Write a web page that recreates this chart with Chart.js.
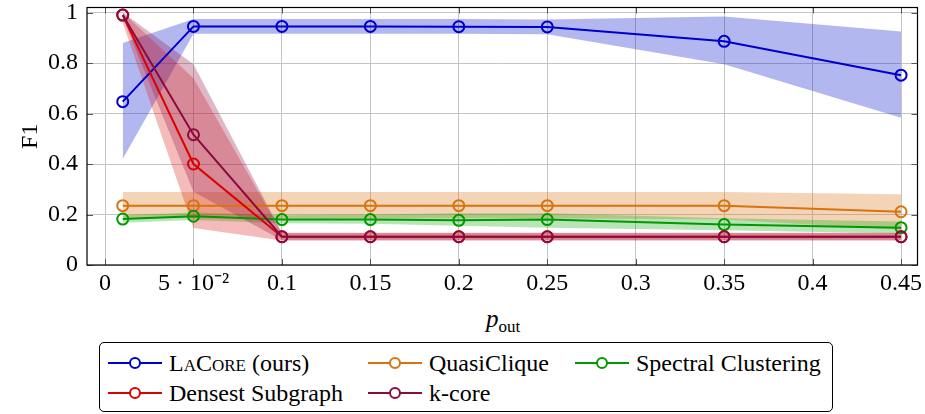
<!DOCTYPE html>
<html>
<head>
  <meta charset="UTF-8" />
  <title>F1 vs p_out</title>
  <style>
    body { margin: 0; background: #fff; font-family: "Liberation Serif", serif; }
    #wrap { position: relative; width: 925px; height: 414px; }
    #plot { position: absolute; left: 0; top: 0; width: 925px; height: 300px; }
    #xtitle { position: absolute; left: 486px; top: 305px; font-size: 25px; }
    #xtitle sub { font-size: 17px; font-style: normal; vertical-align: -5px; }
    #legend { position: absolute; left: 99px; top: 342px; width: 732px; height: 68px;
              border: 1px solid #000; border-radius: 5px; font-size: 24px; }
    .item { position: absolute; height: 30px; line-height: 30px; white-space: nowrap; }
    .sample { display: inline-block; position: relative; width: 54px; height: 30px; vertical-align: top; margin-right: 7px; }
    .sample .ln { position: absolute; left: 0; right: 0; top: 14px; height: 2px; }
    .sample .mk { position: absolute; left: 21px; top: 9px; width: 8px; height: 8px; border: 2px solid; border-radius: 50%; background: #fff; }
    .sc { font-variant: small-caps; }
  </style>
</head>
<body>
<div id="wrap">
  <div id="plot"><canvas id="chart"></canvas></div>
  <div id="xtitle"><i>p</i><sub>out</sub></div>
  <div id="legend"></div>
</div>
<script src="https://cdn.jsdelivr.net/npm/chart.js"></script>
<script>
  // x values (p_out) and tick labels
  const pOut = [0.01, 0.05, 0.1, 0.15, 0.2, 0.25, 0.35, 0.45];
  const xTicks = [0, 0.05, 0.1, 0.15, 0.2, 0.25, 0.3, 0.35, 0.4, 0.45];
  const xTickLabels = ['0', '5 · 10⁻²', '0.1', '0.15', '0.2', '0.25', '0.3', '0.35', '0.4', '0.45'];
  const yTicks = [0, 0.2, 0.4, 0.6, 0.8, 1];
  const yTickLabels = ['0', '0.2', '0.4', '0.6', '0.8', '1'];

  // F1 means and min/max bands
  const lacore   = [0.647, 0.945, 0.945, 0.945, 0.944, 0.943, 0.886, 0.752];
  const lacoreHi = [0.879, 0.974, 0.974, 0.974, 0.974, 0.972, 0.984, 0.925];
  const lacoreLo = [0.42, 0.916, 0.916, 0.916, 0.916, 0.914, 0.795, 0.583];

  const quasi   = [0.235, 0.235, 0.235, 0.235, 0.235, 0.235, 0.235, 0.211];
  const quasiHi = [0.289, 0.289, 0.289, 0.289, 0.289, 0.289, 0.289, 0.28];
  const quasiLo = [0.185, 0.185, 0.185, 0.185, 0.185, 0.185, 0.18, 0.14];

  const spectral   = [0.182, 0.193, 0.18, 0.18, 0.177, 0.18, 0.16, 0.148];
  const spectralHi = [0.197, 0.208, 0.197, 0.2, 0.205, 0.205, 0.185, 0.172];
  const spectralLo = [0.167, 0.178, 0.165, 0.163, 0.155, 0.148, 0.138, 0.125];

  const densest   = [0.99, 0.40, 0.112, 0.112, 0.112, 0.112, 0.112, 0.112];
  const densestHi = [1.0, 0.74, 0.127, 0.127, 0.127, 0.127, 0.127, 0.127];
  const densestLo = [0.96, 0.147, 0.097, 0.097, 0.097, 0.097, 0.097, 0.097];

  const kcore   = [0.99, 0.516, 0.112, 0.112, 0.112, 0.112, 0.112, 0.112];
  const kcoreHi = [1.0, 0.795, 0.128, 0.128, 0.128, 0.128, 0.128, 0.128];
  const kcoreLo = [0.98, 0.29, 0.098, 0.098, 0.098, 0.098, 0.098, 0.098];

  const series = [
    { name: 'LaCore', suffix: ' (ours)', mean: lacore, hi: lacoreHi, lo: lacoreLo, color: '#0000cc', band: 'rgba(20,30,205,0.32)', order: 5 },
    { name: 'QuasiClique', mean: quasi, hi: quasiHi, lo: quasiLo, color: '#d9730d', band: 'rgba(217,120,30,0.32)', order: 4 },
    { name: 'Spectral Clustering', mean: spectral, hi: spectralHi, lo: spectralLo, color: '#009900', band: 'rgba(20,170,20,0.3)', order: 3 },
    { name: 'Densest Subgraph', mean: densest, hi: densestHi, lo: densestLo, color: '#dd0000', band: 'rgba(220,30,30,0.3)', order: 2 },
    { name: 'k-core', mean: kcore, hi: kcoreHi, lo: kcoreLo, color: '#8c0a3c', band: 'rgba(150,20,70,0.3)', order: 1 }
  ];

  const pts = arr => arr.map((v, i) => ({ x: pOut[i], y: v }));

  const datasets = [];
  series.forEach(s => {
    datasets.push({ data: pts(s.hi), borderWidth: 0, pointRadius: 0, fill: false, order: 20 + s.order });
    datasets.push({ data: pts(s.lo), borderWidth: 0, pointRadius: 0, fill: '-1', backgroundColor: s.band, order: 20 + s.order });
  });
  series.forEach(s => {
    datasets.push({
      label: s.name, data: pts(s.mean), borderColor: s.color, borderWidth: 2,
      pointStyle: 'circle', pointRadius: 5.5, pointBorderWidth: 2,
      pointBorderColor: s.color, pointBackgroundColor: 'rgba(0,0,0,0)',
      fill: false, order: s.order
    });
  });

  // black frame plus pgfplots-style inner ticks
  const framePlugin = {
    id: 'frame',
    afterDraw(chart) {
      const { ctx, chartArea: a, scales } = chart;
      ctx.save();
      ctx.strokeStyle = '#555';
      ctx.lineWidth = 1;
      xTicks.forEach(v => {
        const px = Math.round(scales.x.getPixelForValue(v)) + 0.5;
        ctx.beginPath();
        ctx.moveTo(px, a.bottom); ctx.lineTo(px, a.bottom - 6);
        ctx.moveTo(px, a.top); ctx.lineTo(px, a.top + 6);
        ctx.stroke();
      });
      yTicks.forEach(v => {
        const py = Math.round(scales.y.getPixelForValue(v)) + 0.5;
        ctx.beginPath();
        ctx.moveTo(a.left, py); ctx.lineTo(a.left + 6, py);
        ctx.moveTo(a.right, py); ctx.lineTo(a.right - 6, py);
        ctx.stroke();
      });
      ctx.strokeStyle = '#000';
      ctx.lineWidth = 1.2;
      ctx.strokeRect(a.left, a.top, a.right - a.left, a.bottom - a.top);
      ctx.restore();
    }
  };

  const tickFont = { family: '"Liberation Serif", serif', size: 24 };

  new Chart(document.getElementById('chart'), {
    type: 'line',
    data: { datasets: datasets },
    plugins: [framePlugin],
    options: {
      responsive: true,
      maintainAspectRatio: false,
      animation: false,
      layout: { padding: { top: 6, right: 7, left: 0, bottom: 0 } },
      plugins: { legend: { display: false }, tooltip: { enabled: false } },
      scales: {
        x: {
          type: 'linear', min: -0.0102, max: 0.4593,
          afterBuildTicks: sc => { sc.ticks = xTicks.map(v => ({ value: v })); },
          afterFit: sc => { sc.height = 35; sc.paddingLeft = 0; sc.paddingRight = 0; },
          ticks: {
            color: '#000', font: tickFont, padding: 4, maxRotation: 0, autoSkip: false,
            callback: (v, i) => xTickLabels[i]
          },
          grid: { color: '#c4c4c4', lineWidth: 1, drawTicks: false },
          border: { display: false }
        },
        y: {
          type: 'linear', min: 0, max: 1.02,
          afterBuildTicks: sc => { sc.ticks = yTicks.map(v => ({ value: v })); },
          afterFit: sc => { sc.width = 87; sc.paddingTop = 0; sc.paddingBottom = 0; },
          ticks: {
            color: '#000', font: tickFont, padding: 9,
            callback: (v, i) => yTickLabels[i]
          },
          title: { display: true, text: 'F1', color: '#000', font: tickFont, padding: { top: 16, bottom: 0 } },
          grid: { color: '#c4c4c4', lineWidth: 1, drawTicks: false },
          border: { display: false }
        }
      }
    }
  });

  // legend in three columns, like the pgfplots legend
  const legendCols = [8, 268, 475];
  const legendRows = [5, 35];
  const legendEl = document.getElementById('legend');
  series.forEach((s, i) => {
    const item = document.createElement('div');
    item.className = 'item';
    item.style.left = legendCols[i % 3] + 'px';
    item.style.top = legendRows[Math.floor(i / 3)] + 'px';
    const label = s.name === 'LaCore'
      ? '<span class="sc">LaCore</span>' + s.suffix
      : s.name;
    item.innerHTML = '<span class="sample"><span class="ln" style="background:' + s.color +
      '"></span><span class="mk" style="border-color:' + s.color + '"></span></span>' + label;
    legendEl.appendChild(item);
  });
</script>
</body>
</html>
